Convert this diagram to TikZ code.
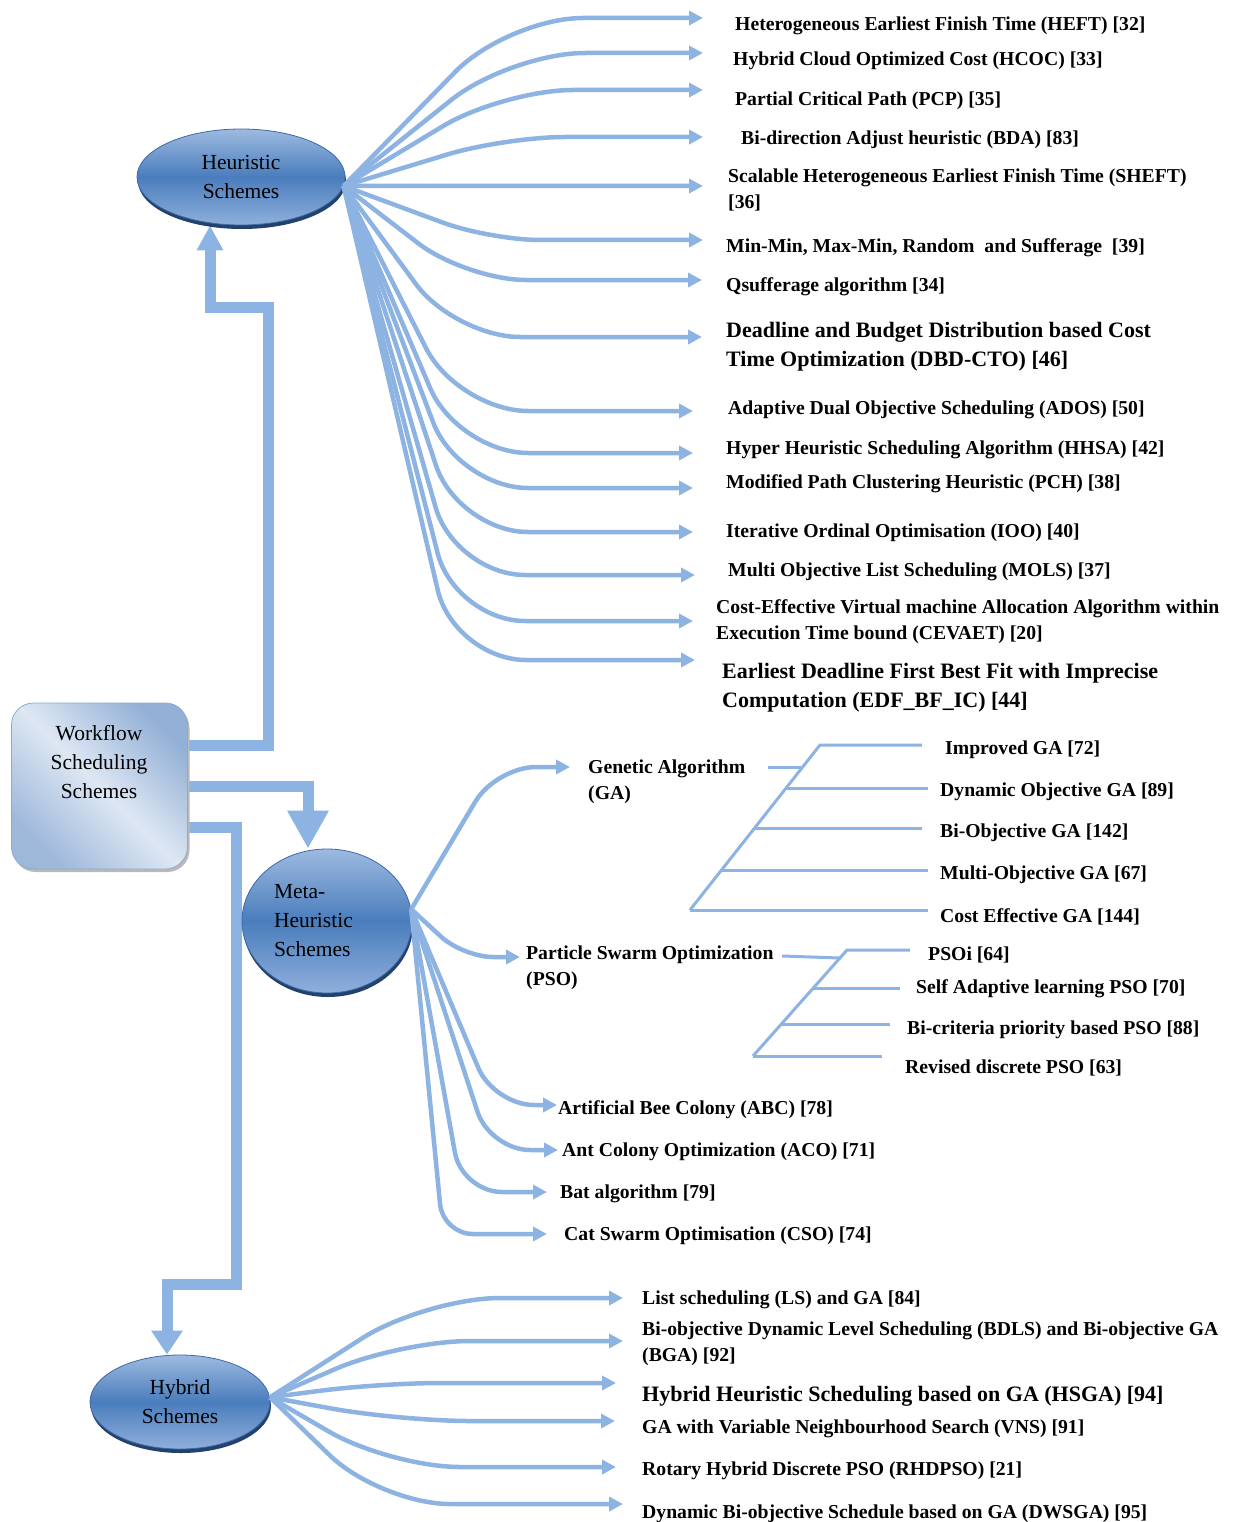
\documentclass[tikz,border=0pt]{standalone}
\usepackage{fontspec}
\setmainfont{Liberation Serif}
\usetikzlibrary{arrows.meta,shapes.geometric,shadows,backgrounds}
\definecolor{cblue}{HTML}{8DB3E2}
\definecolor{elltop}{HTML}{9DBAE0}
\definecolor{ellmid}{HTML}{4A7DBD}
\definecolor{ellbot}{HTML}{8FAFDB}
\definecolor{ellrim}{HTML}{22416B}
\definecolor{elledge}{HTML}{3D6AA6}
\definecolor{boxlight}{HTML}{DEE7F3}
\definecolor{boxdark}{HTML}{93B0D6}
\definecolor{boxedge}{HTML}{8FAAD0}
\newcommand\lblfont{\fontsize{19.7}{26}\selectfont\bfseries}
\newcommand\biglblfont{\fontsize{22}{29.5}\selectfont\bfseries}
\newcommand\nodefont{\fontsize{21.5}{29}\selectfont}
\begin{document}
\begin{tikzpicture}[x=1pt,y=-1pt,
  lbl/.style={font=\lblfont, anchor=west, inner sep=0pt, align=left, yshift=-2.5pt},
  biglbl/.style={font=\biglblfont, anchor=west, inner sep=0pt, align=left, yshift=-2.5pt},
  fan/.style={draw=cblue, line width=4.5pt, -{Triangle[length=14pt,width=14pt]}},
  thicklink/.style={draw=cblue, line width=11pt},
  tree/.style={draw=cblue, line width=3pt},
  scheme/.style={ellipse, draw=elledge, line width=0.8pt, top color=elltop, bottom color=ellbot, middle color=ellmid,
    font=\nodefont, align=center, inner sep=0pt,
    drop shadow={fill=ellrim, opacity=1, shadow xshift=1pt, shadow yshift=-4pt}},
  wfbox/.style={rectangle, rounded corners=22pt, draw=boxedge, line width=0.8pt,
    shading=axis, top color=boxdark, bottom color=boxdark!85!boxlight, middle color=boxlight, shading angle=-45,
    drop shadow={fill=gray!55, opacity=1, shadow xshift=2pt, shadow yshift=-3pt}}
]
\useasboundingbox (0,0) rectangle (1233,1522);

% ---- main nodes
\node[wfbox, minimum width=176pt, minimum height=166pt] (wf) at (99.5,786) {};
\node[font=\nodefont, align=center, inner sep=0pt] (wftext) at (99,762) {Workflow\\Scheduling\\Schemes};
\node[scheme, minimum width=208pt, minimum height=96pt] (heur) at (241,177) {Heuristic\\Schemes};
\node[scheme, minimum width=170pt, minimum height=144pt, text width=106pt, align=left] (meta) at (327,921) {Meta-\\Heuristic\\Schemes};
\node[scheme, minimum width=180pt, minimum height=94pt] (hyb) at (180,1402) {Hybrid\\Schemes};

% ---- thick links
\begin{scope}[on background layer]
\draw[thicklink, -{Triangle[length=25pt,width=25pt]}] ([yshift=41pt]wf.east) -| (268,307) -- (210,307) -- (210,0 |- heur.south);
\draw[thicklink, -{Triangle[length=38pt,width=39pt]}] (wf.east) -- (308,786) -- (308,0 |- meta.north);
\draw[thicklink, -{Triangle[length=24pt,width=30pt]}] ([yshift=-41pt]wf.east) -| (236,1284) -- (167,1284) -- (167,0 |- hyb.north);
\end{scope}

% ---- heuristic fan
\foreach \i/\cx/\yy/\rr/\tx in {1/508/18/75/703, 2/510/53/75/703, 3/503/90/70/703, 4/505/137/60/703,
  5/500/186/0/703, 6/490/240/50/703, 7/466/280/60/702, 8/455/337/65/702, 9/458/411/70/693,
  10/458/453/70/693, 11/458/488/70/693, 12/458/532/70/693, 13/455/575/70/695, 14/455/621/70/693,
  15/454/660/72/695} {
  \coordinate (ht\i) at (\tx,\yy);
  \draw[fan, rounded corners=\rr pt] (heur.-5) -- (\cx,\yy) -- (ht\i);
}

\node[lbl] (h1) at (735,23) {Heterogeneous Earliest Finish Time (HEFT) [32]};
\node[lbl] (h2) at (733,58) {Hybrid Cloud Optimized Cost (HCOC) [33]};
\node[lbl] (h3) at (735,98) {Partial Critical Path (PCP) [35]};
\node[lbl] (h4) at (741,137) {Bi-direction Adjust heuristic (BDA) [83]};
\node[lbl] (h5) at (728,187) {Scalable Heterogeneous Earliest Finish Time (SHEFT)\\{[36]}};
\node[lbl] (h6) at (726,245) {Min-Min, Max-Min, Random\ \ and Sufferage\ \ [39]};
\node[lbl] (h7) at (726,284) {Qsufferage algorithm [34]};
\node[biglbl] (h8) at (726,344) {Deadline and Budget Distribution based Cost\\Time Optimization (DBD-CTO) [46]};
\node[lbl] (h9) at (728,407) {Adaptive Dual Objective Scheduling (ADOS) [50]};
\node[lbl] (h10) at (726,447) {Hyper Heuristic Scheduling Algorithm (HHSA) [42]};
\node[lbl] (h11) at (726,481) {Modified Path Clustering Heuristic (PCH) [38]};
\node[lbl] (h12) at (726,530) {Iterative Ordinal Optimisation (IOO) [40]};
\node[lbl] (h13) at (728,569) {Multi Objective List Scheduling (MOLS) [37]};
\node[lbl] (h14) at (716,619) {Cost-Effective Virtual machine Allocation Algorithm within\\Execution Time bound (CEVAET) [20]};
\node[biglbl] (h15) at (722,685) {Earliest Deadline First Best Fit with Imprecise\\Computation (EDF\_BF\_IC) [44]};

% ---- meta-heuristic fan
\foreach \i/\cx/\yy/\rr/\tx in {1/496/767/40/570, 2/463/957/30/520, 3/494/1105/40/557,
  4/490/1150/40/558, 5/462/1192/40/547, 6/443/1234/30/547} {
  \coordinate (mt\i) at (\tx,\yy);
  \draw[fan, rounded corners=\rr pt] (meta.8) -- (\cx,\yy) -- (mt\i);
}
\node[lbl] (ga) at (588,779) {Genetic Algorithm\\(GA)};
\node[lbl] (pso) at (526,965) {Particle Swarm Optimization\\(PSO)};
\node[lbl] (abc) at (558,1107) {Artificial Bee Colony (ABC) [78]};
\node[lbl] (aco) at (562,1149) {Ant Colony Optimization (ACO) [71]};
\node[lbl] (bat) at (560,1191) {Bat algorithm [79]};
\node[lbl] (cso) at (564,1233) {Cat Swarm Optimisation (CSO) [74]};

% GA tree
\draw[tree] (768,767) -- (803,767);
\draw[tree] (690,910) -- (820,745) -- (922,745);
\draw[tree] (786,788) -- (928,788);
\draw[tree] (755,828) -- (922,828);
\draw[tree] (721,870) -- (928,870);
\draw[tree] (690,910) -- (928,910);
\node[lbl] (ga1) at (945,747) {Improved GA [72]};
\node[lbl] (ga2) at (940,789) {Dynamic Objective GA [89]};
\node[lbl] (ga3) at (940,830) {Bi-Objective GA [142]};
\node[lbl] (ga4) at (940,872) {Multi-Objective GA [67]};
\node[lbl] (ga5) at (940,914) {Cost Effective GA [144]};

% PSO tree
\draw[tree] (782,956) -- (840,958);
\draw[tree] (753,1056) -- (847,950) -- (910,950);
\draw[tree] (813,988) -- (900,988);
\draw[tree] (781,1024) -- (890,1024);
\draw[tree] (753,1056) -- (882,1056);
\node[lbl] (ps1) at (928,952) {PSOi [64]};
\node[lbl] (ps2) at (916,986) {Self Adaptive learning PSO [70]};
\node[lbl] (ps3) at (907,1027) {Bi-criteria priority based PSO [88]};
\node[lbl] (ps4) at (905,1065) {Revised discrete PSO [63]};

% ---- hybrid fan
\foreach \i/\cx/\yy/\rr/\tx in {1/425/1298/75/623, 2/400/1341/70/623, 3/380/1383/60/616,
  4/400/1421/70/615, 5/390/1467/70/616, 6/380/1504/70/623} {
  \coordinate (yt\i) at (\tx,\yy);
  \draw[fan, rounded corners=\rr pt] (hyb.3) -- (\cx,\yy) -- (yt\i);
}
\node[lbl] (y1) at (642,1297) {List scheduling (LS) and GA [84]};
\node[lbl] (y2) at (642,1341) {Bi-objective Dynamic Level Scheduling (BDLS) and Bi-objective GA\\(BGA) [92]};
\node[biglbl] (y3) at (642,1394) {Hybrid Heuristic Scheduling based on GA (HSGA) [94]};
\node[lbl] (y4) at (642,1426) {GA with Variable Neighbourhood Search (VNS) [91]};
\node[lbl] (y5) at (642,1468) {Rotary Hybrid Discrete PSO (RHDPSO) [21]};
\node[lbl] (y6) at (642,1511) {Dynamic Bi-objective Schedule based on GA (DWSGA) [95]};
\end{tikzpicture}
\end{document}
